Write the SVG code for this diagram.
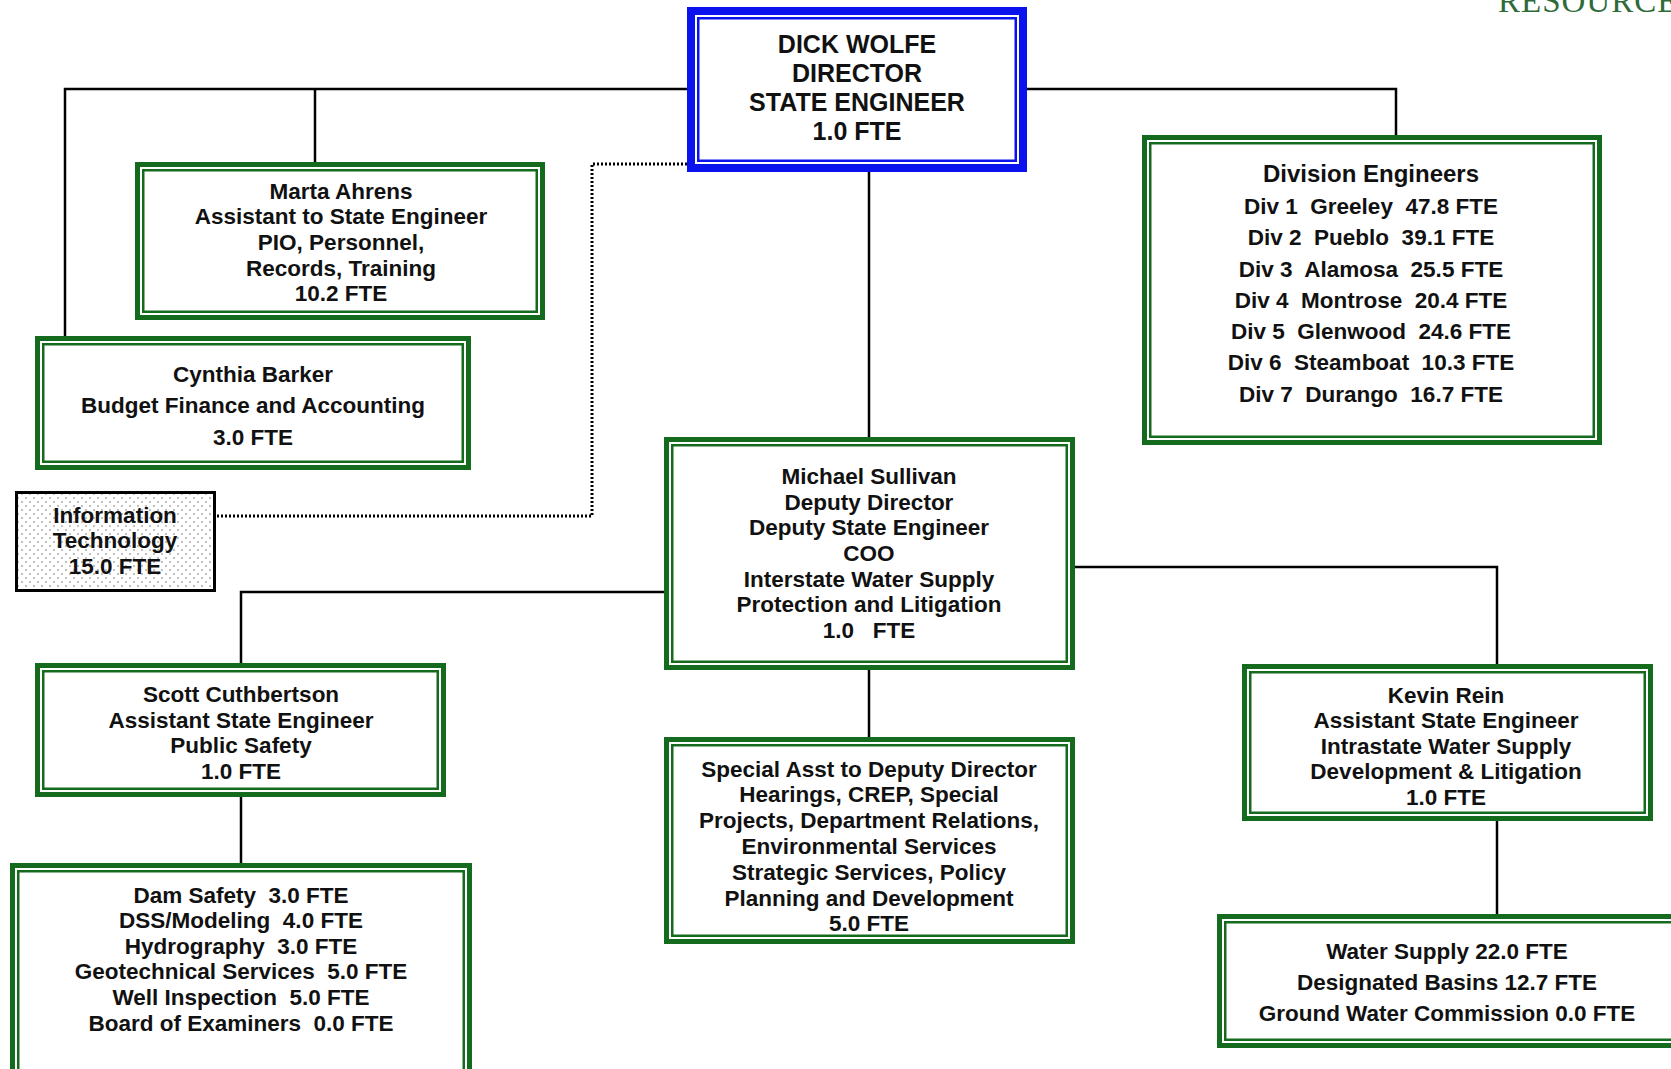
<svg xmlns="http://www.w3.org/2000/svg" width="1671" height="1069" viewBox="0 0 1671 1069">
<style>
.t{font-family:"Liberation Sans",Arial,sans-serif;font-weight:bold;font-size:22.5px;fill:#111;text-anchor:middle}
.d{font-size:25px}
.h{font-size:24px}
.go{fill:#fff;stroke:#146b1e;stroke-width:5}
.gi{fill:none;stroke:#146b1e;stroke-width:2.5}
.bo{fill:#fff;stroke:#0a12ee;stroke-width:8}
.bi{fill:none;stroke:#0a12ee;stroke-width:2.5}
.c{stroke:#000;stroke-width:2.5;fill:none}
.dot{stroke:#000;stroke-width:3;fill:none;stroke-dasharray:2 2}
</style>
<defs>
<pattern id="stip" width="8" height="8" patternUnits="userSpaceOnUse">
<rect width="8" height="8" fill="#fff"/>
<circle cx="2" cy="2" r="0.7" fill="#555"/>
<circle cx="6" cy="6" r="0.7" fill="#555"/>
</pattern>
</defs>
<rect width="1671" height="1069" fill="#fff"/>
<text x="1498" y="12" font-family="Liberation Serif, serif" font-size="33" fill="#2f6b3a" letter-spacing="1">RESOURCE</text>

<g id="connectors">
<polyline class="c" points="687,89 65,89 65,337"/>
<line class="c" x1="315" y1="89" x2="315" y2="163"/>
<polyline class="c" points="1027,89 1396,89 1396,136"/>
<line class="c" x1="869" y1="172" x2="869" y2="438"/>
<polyline class="dot" points="217,516 592,516 592,164 687,164"/>
<polyline class="c" points="665,592 241,592 241,664"/>
<polyline class="c" points="1074,567 1497,567 1497,665"/>
<line class="c" x1="869" y1="669" x2="869" y2="738"/>
<line class="c" x1="241" y1="796" x2="241" y2="864"/>
<line class="c" x1="1497" y1="820" x2="1497" y2="915"/>
</g>

<g id="director">
<rect class="bo" x="691" y="11" width="332" height="157"/>
<rect class="bi" x="698.25" y="18.25" width="317.5" height="142.5"/>
<text class="t d" x="857" y="53">DICK WOLFE</text>
<text class="t d" x="857" y="82">DIRECTOR</text>
<text class="t d" x="857" y="111">STATE ENGINEER</text>
<text class="t d" x="857" y="140">1.0 FTE</text>
</g>

<g id="marta">
<rect class="go" x="137.5" y="164.5" width="405" height="153"/>
<rect class="gi" x="143.25" y="170.25" width="393.5" height="141.5"/>
<text class="t" x="341" y="199">Marta Ahrens</text>
<text class="t" x="341" y="224">Assistant to State Engineer</text>
<text class="t" x="341" y="250">PIO, Personnel,</text>
<text class="t" x="341" y="275.5">Records, Training</text>
<text class="t" x="341" y="301">10.2 FTE</text>
</g>

<g id="cynthia">
<rect class="go" x="37.5" y="338.5" width="431" height="129"/>
<rect class="gi" x="43.25" y="344.25" width="419.5" height="117.5"/>
<text class="t" x="253" y="381.5">Cynthia Barker</text>
<text class="t" x="253" y="412.5">Budget Finance and Accounting</text>
<text class="t" x="253" y="444.5">3.0 FTE</text>
</g>

<g id="it">
<rect x="16.5" y="492.5" width="198" height="98" fill="url(#stip)" stroke="#000" stroke-width="3"/>
<text class="t" x="115" y="523">Information</text>
<text class="t" x="115" y="548">Technology</text>
<text class="t" x="115" y="574">15.0 FTE</text>
</g>

<g id="division">
<rect class="go" x="1144.5" y="137.5" width="455" height="305"/>
<rect class="gi" x="1150.25" y="143.25" width="443.5" height="293.5"/>
<text class="t h" x="1371" y="181.5">Division Engineers</text>
<text class="t" x="1371" y="213.5" xml:space="preserve">Div 1  Greeley  47.8 FTE</text>
<text class="t" x="1371" y="245" xml:space="preserve">Div 2  Pueblo  39.1 FTE</text>
<text class="t" x="1371" y="276.5" xml:space="preserve">Div 3  Alamosa  25.5 FTE</text>
<text class="t" x="1371" y="307.5" xml:space="preserve">Div 4  Montrose  20.4 FTE</text>
<text class="t" x="1371" y="339" xml:space="preserve">Div 5  Glenwood  24.6 FTE</text>
<text class="t" x="1371" y="370" xml:space="preserve">Div 6  Steamboat  10.3 FTE</text>
<text class="t" x="1371" y="401.5" xml:space="preserve">Div 7  Durango  16.7 FTE</text>
</g>

<g id="sullivan">
<rect class="go" x="666.5" y="439.5" width="406" height="228"/>
<rect class="gi" x="672.25" y="445.25" width="394.5" height="216.5"/>
<text class="t" x="869" y="484">Michael Sullivan</text>
<text class="t" x="869" y="509.7">Deputy Director</text>
<text class="t" x="869" y="535.4">Deputy State Engineer</text>
<text class="t" x="869" y="561">COO</text>
<text class="t" x="869" y="586.7">Interstate Water Supply</text>
<text class="t" x="869" y="612.4">Protection and Litigation</text>
<text class="t" x="869" y="638" xml:space="preserve">1.0   FTE</text>
</g>

<g id="scott">
<rect class="go" x="37.5" y="665.5" width="406" height="129"/>
<rect class="gi" x="43.25" y="671.25" width="394.5" height="117.5"/>
<text class="t" x="241" y="702">Scott Cuthbertson</text>
<text class="t" x="241" y="727.5">Assistant State Engineer</text>
<text class="t" x="241" y="753">Public Safety</text>
<text class="t" x="241" y="778.5">1.0 FTE</text>
</g>

<g id="dam">
<rect class="go" x="12.5" y="865.5" width="457" height="217"/>
<rect class="gi" x="18.25" y="871.25" width="445.5" height="205.5"/>
<text class="t" x="241" y="902.5" xml:space="preserve">Dam Safety  3.0 FTE</text>
<text class="t" x="241" y="928" xml:space="preserve">DSS/Modeling  4.0 FTE</text>
<text class="t" x="241" y="953.5" xml:space="preserve">Hydrography  3.0 FTE</text>
<text class="t" x="241" y="979" xml:space="preserve">Geotechnical Services  5.0 FTE</text>
<text class="t" x="241" y="1005" xml:space="preserve">Well Inspection  5.0 FTE</text>
<text class="t" x="241" y="1030.5" xml:space="preserve">Board of Examiners  0.0 FTE</text>
</g>

<g id="special">
<rect class="go" x="666.5" y="739.5" width="406" height="202"/>
<rect class="gi" x="672.25" y="745.25" width="394.5" height="190.5"/>
<text class="t" x="869" y="776.5">Special Asst to Deputy Director</text>
<text class="t" x="869" y="802.3">Hearings, CREP, Special</text>
<text class="t" x="869" y="828.1">Projects, Department Relations,</text>
<text class="t" x="869" y="853.9">Environmental Services</text>
<text class="t" x="869" y="879.7">Strategic Services, Policy</text>
<text class="t" x="869" y="905.5">Planning and Development</text>
<text class="t" x="869" y="931.3">5.0 FTE</text>
</g>

<g id="kevin">
<rect class="go" x="1244.5" y="666.5" width="406" height="152"/>
<rect class="gi" x="1250.25" y="672.25" width="394.5" height="140.5"/>
<text class="t" x="1446" y="702.5">Kevin Rein</text>
<text class="t" x="1446" y="728">Assistant State Engineer</text>
<text class="t" x="1446" y="753.5">Intrastate Water Supply</text>
<text class="t" x="1446" y="779">Development &amp; Litigation</text>
<text class="t" x="1446" y="804.5">1.0 FTE</text>
</g>

<g id="water">
<rect class="go" x="1219.5" y="916.5" width="468" height="129"/>
<rect class="gi" x="1225.25" y="922.25" width="456.5" height="117.5"/>
<text class="t" x="1447" y="959">Water Supply 22.0 FTE</text>
<text class="t" x="1447" y="990">Designated Basins 12.7 FTE</text>
<text class="t" x="1447" y="1020.5">Ground Water Commission 0.0 FTE</text>
</g>
</svg>
